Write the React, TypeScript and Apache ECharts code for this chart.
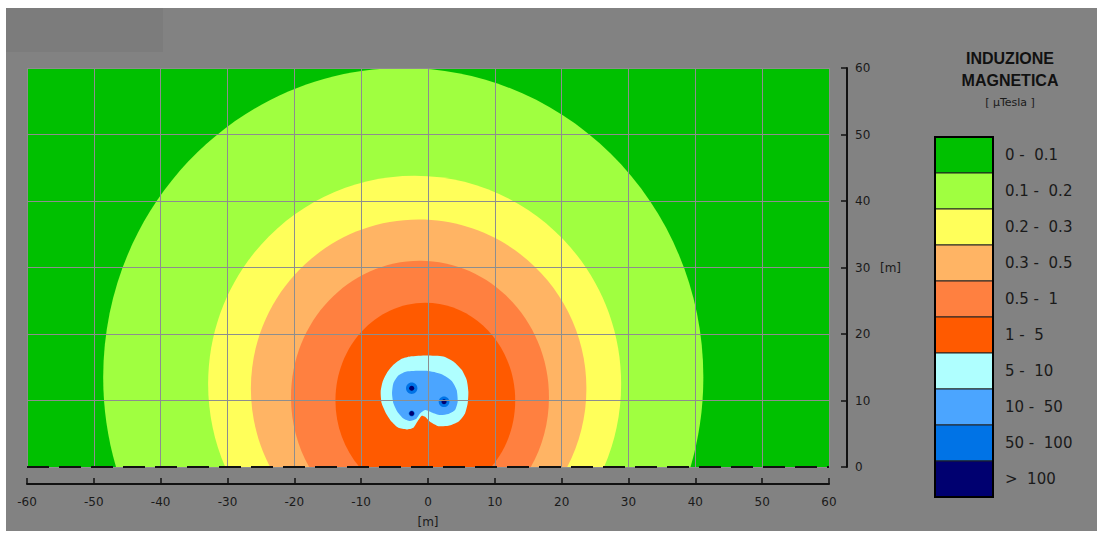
import React, { useEffect, useRef } from "react";
import * as echarts from "echarts";

// Axes
const xMin = -60;
const xMax = 60;
const yMin = 0;
const yMax = 60;
const tickStep = 10;

// Legend levels
const levelLabels = [
  "0 -  0.1",
  "0.1 -  0.2",
  "0.2 -  0.3",
  "0.3 -  0.5",
  "0.5 -  1",
  "1 -  5",
  "5 -  10",
  "10 -  50",
  "50 -  100",
  ">  100",
];
const levelColors = [
  "#00C000",
  "#A0FF40",
  "#FFFF5A",
  "#FFB464",
  "#FF8040",
  "#FF5A00",
  "#AFFFFF",
  "#4BA5FF",
  "#0073E6",
  "#000070",
];

// Outer contour boundaries (approx. ellipses): centre x, centre y, radius x, radius y [m], level
const contourCx = [-3.7, -2.0, -1.4, -1.2, -0.4];
const contourCy = [13.5, 12.5, 11.8, 10.5, 10.0];
const contourRx = [44.9, 30.9, 25.1, 19.3, 13.45];
const contourRy = [46.5, 31.3, 25.4, 20.5, 14.7];
const contourLevel = [1, 2, 3, 4, 5];

// 5 - 10 µT region outline
const cyanX = [-2.69, -0.19, 2.3, 3.8, 5.04, 5.79, 6.04, 5.94, 5.54, 4.54, 3.05, 1.55, 0.3, -0.44, -0.94, -1.44, -2.19, -3.19, -4.43, -5.43, -6.28, -6.93, -7.08, -6.78, -6.18, -5.18, -3.94];
const cyanY = [16.62, 16.77, 16.62, 15.87, 14.61, 13.1, 11.33, 9.57, 8.06, 6.8, 6.19, 6.14, 6.8, 7.55, 7.71, 7.05, 5.89, 5.64, 5.89, 6.8, 8.06, 9.57, 11.33, 12.84, 14.1, 15.36, 16.27];

// 10 - 50 µT region outline
const blueX = [-3.19, -0.19, 2.05, 3.55, 4.29, 4.44, 4.04, 3.05, 1.8, 0.55, -0.44, -1.19, -1.79, -2.69, -3.69, -4.58, -5.18, -5.38, -5.18, -4.43];
const blueY = [14.36, 14.46, 13.95, 12.95, 11.59, 9.82, 8.56, 7.96, 7.81, 8.21, 8.56, 8.06, 7.2, 6.9, 7.3, 8.31, 9.57, 11.08, 12.59, 13.75];

// Conductors
const condX = [-2.44, 2.4, -2.44];
const condY = [11.84, 9.82, 8.06];
const condRing = [0.85, 0.8, 0.45];
const condCore = [0.38, 0.38, 0.35];

const FONT = "'DejaVu Sans', sans-serif";
const TXT = "#1a1a1a";

function buildOption(): any {
  const ellipseData = contourCx.map((cx, i) => [cx, contourCy[i], contourRx[i], contourRy[i], contourLevel[i]]);
  const ringData = condX.map((x, i) => [x, condY[i], condRing[i], condRing[i], 8]);
  const coreData = condX.map((x, i) => [x, condY[i], condCore[i], condCore[i], 9]);

  const ellipseRender = (params: any, api: any) => {
    const c = api.coord([api.value(0), api.value(1)]);
    const s = api.size([api.value(2), api.value(3)]);
    return {
      type: "ellipse",
      shape: { cx: c[0], cy: c[1], rx: s[0], ry: s[1] },
      style: { fill: levelColors[api.value(4)] },
    };
  };

  const polys = [
    { xs: cyanX, ys: cyanY, level: 6 },
    { xs: blueX, ys: blueY, level: 7 },
  ];

  const legendX = 935;
  const legendY = 137;
  const cellW = 58;
  const cellH = 36;

  const legendCells: any[] = levelColors.map((c, i) => ({
    type: "rect",
    shape: { x: legendX, y: legendY + i * cellH, width: cellW, height: cellH },
    style: { fill: c, stroke: "#222", lineWidth: 1 },
  }));
  const legendTexts: any[] = levelLabels.map((l, i) => ({
    type: "text",
    x: 1005,
    y: legendY + i * cellH + cellH / 2,
    style: { text: l, fill: TXT, font: `15px ${FONT}`, textAlign: "left", textVerticalAlign: "middle" },
  }));

  return {
    animation: false,
    backgroundColor: "#ffffff",
    grid: { left: 27, right: 273, top: 68, bottom: 63, containLabel: false },
    xAxis: {
      type: "value",
      min: xMin,
      max: xMax,
      interval: tickStep,
      position: "bottom",
      offset: 17,
      z: 3,
      name: "[m]",
      nameLocation: "middle",
      nameGap: 32,
      nameTextStyle: { color: TXT, fontSize: 12, fontFamily: FONT },
      axisLine: { show: true, onZero: false, lineStyle: { color: "#111", width: 2 } },
      axisTick: { show: true, inside: true, length: 6, lineStyle: { color: "#111", width: 1.5 } },
      axisLabel: { color: TXT, fontSize: 12, fontFamily: FONT, margin: 12 },
      splitLine: { show: true, lineStyle: { color: "#8e8e8e", width: 1 } },
    },
    yAxis: {
      type: "value",
      min: yMin,
      max: yMax,
      interval: tickStep,
      position: "right",
      offset: 18,
      z: 3,
      name: "[m]",
      nameLocation: "middle",
      nameRotate: 0,
      nameGap: 33,
      nameTextStyle: { color: TXT, fontSize: 12, fontFamily: FONT, align: "left" },
      axisLine: { show: true, onZero: false, lineStyle: { color: "#111", width: 2 } },
      axisTick: { show: true, inside: true, length: 6, lineStyle: { color: "#111", width: 1.5 } },
      axisLabel: { color: TXT, fontSize: 12, fontFamily: FONT, margin: 8 },
      splitLine: { show: true, lineStyle: { color: "#8e8e8e", width: 1 } },
    },
    graphic: [
      {
        type: "rect",
        z: -100,
        silent: true,
        shape: { x: 6, y: 8, width: 1091, height: 523 },
        style: { fill: "#828282" },
      },
      {
        type: "rect",
        z: -99,
        silent: true,
        shape: { x: 6, y: 8, width: 157, height: 44 },
        style: { fill: "#7c7c7c" },
      },
      {
        type: "text",
        x: 1010,
        y: 58,
        style: { text: "INDUZIONE", fill: "#111", font: "bold 16px 'Liberation Sans', Arial, sans-serif", textAlign: "center", textVerticalAlign: "middle" },
      },
      {
        type: "text",
        x: 1010,
        y: 80,
        style: { text: "MAGNETICA", fill: "#111", font: "bold 16px 'Liberation Sans', Arial, sans-serif", textAlign: "center", textVerticalAlign: "middle" },
      },
      {
        type: "text",
        x: 1010,
        y: 102,
        style: { text: "[ µTesla ]", fill: TXT, font: `11px ${FONT}`, textAlign: "center", textVerticalAlign: "middle" },
      },
      ...legendCells,
      {
        type: "rect",
        shape: { x: legendX, y: legendY, width: cellW, height: cellH * levelColors.length },
        style: { fill: "none", stroke: "#000", lineWidth: 2 },
      },
      ...legendTexts,
    ],
    series: [
      {
        type: "custom",
        name: "background",
        coordinateSystem: "cartesian2d",
        clip: true,
        z: 1,
        data: [[xMin, yMax, xMax, yMin]],
        encode: { x: [0, 2], y: [1, 3] },
        renderItem: (params: any, api: any) => {
          const a = api.coord([api.value(0), api.value(1)]);
          const b = api.coord([api.value(2), api.value(3)]);
          return {
            type: "rect",
            shape: { x: a[0], y: a[1], width: b[0] - a[0], height: b[1] - a[1] },
            style: { fill: levelColors[0] },
          };
        },
      },
      {
        type: "custom",
        name: "contours",
        coordinateSystem: "cartesian2d",
        clip: true,
        z: 2,
        data: ellipseData,
        encode: { x: 0, y: 1 },
        renderItem: ellipseRender,
      },
      {
        type: "custom",
        name: "near field",
        coordinateSystem: "cartesian2d",
        clip: true,
        z: 2,
        data: polys.map((p, i) => [p.xs[0], p.ys[0], i]),
        encode: { x: 0, y: 1 },
        renderItem: (params: any, api: any) => {
          const p = polys[api.value(2)];
          const pts = p.xs.map((x, k) => api.coord([x, p.ys[k]]));
          return { type: "polygon", shape: { points: pts, smooth: 0.2 }, style: { fill: levelColors[p.level] } };
        },
      },
      {
        type: "custom",
        name: "rings",
        coordinateSystem: "cartesian2d",
        clip: true,
        z: 2,
        data: ringData,
        encode: { x: 0, y: 1 },
        renderItem: ellipseRender,
      },
      {
        type: "custom",
        name: "cores",
        coordinateSystem: "cartesian2d",
        clip: true,
        z: 2,
        data: coreData,
        encode: { x: 0, y: 1 },
        renderItem: ellipseRender,
      },
      {
        type: "line",
        name: "ground",
        z: 5,
        clip: false,
        symbol: "none",
        silent: true,
        data: [
          [xMin, 0],
          [xMax, 0],
        ],
        lineStyle: { color: "#111", width: 2, type: [22, 10] },
      },
    ],
  };
}

export default function App() {
  const ref = useRef<HTMLDivElement>(null);
  useEffect(() => {
    if (!ref.current) return;
    const chart = echarts.init(ref.current, null, { renderer: "svg" });
    chart.setOption(buildOption());
    return () => chart.dispose();
  }, []);
  return <div ref={ref} style={{ position: "absolute", left: 0, top: 0, width: 1102, height: 533 }} />;
}
